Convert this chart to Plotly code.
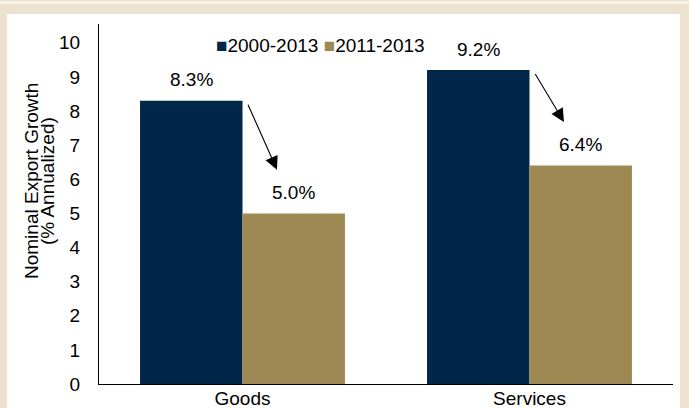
import plotly.graph_objects as go

categories = ["Goods", "Services"]
series_names = ["2000-2013", "2011-2013"]
values_2000_2013 = [8.3, 9.2]
values_2011_2013 = [5.0, 6.4]
y_ticks = list(range(0, 11))

NAVY = "#00264A"
GOLD = "#9E8955"
BEIGE = "#EDE2D0"
FONT = "Liberation Sans, Arial, sans-serif"
FS = 19

W, H = 689, 408
ML, MR, MT, MB = 99, 16, 24, 24
PW, PH = W - ML - MR, H - MT - MB


def px2paper_x(px):
    return (px - ML) / PW


def px2paper_y(py):
    return (H - MB - py) / PH


BARGAP = 0.286
bar_w = (1 - BARGAP) / 2
colors = [NAVY, GOLD]

fig = go.Figure()
fig.add_trace(go.Bar(name=series_names[0], x=categories, y=values_2000_2013,
                     marker=dict(color=NAVY, line=dict(width=0))))
fig.add_trace(go.Bar(name=series_names[1], x=categories, y=values_2011_2013,
                     marker=dict(color=GOLD, line=dict(width=0))))

annotations = []
for i, (v1, v2) in enumerate(zip(values_2000_2013, values_2011_2013)):
    annotations.append(dict(x=i - bar_w / 2, y=v1, xref="x", yref="y", text=f"{v1:.1f}%",
                            showarrow=False, yshift=21, font=dict(size=FS, color="#000")))
    annotations.append(dict(x=i + bar_w / 2, y=v2, xref="x", yref="y", text=f"{v2:.1f}%",
                            showarrow=False, yshift=21, font=dict(size=FS, color="#000")))
    # arrow from top of first bar towards the second
    annotations.append(dict(x=i + 0.12, y=v2 + 1.28, ax=i + 0.017, ay=v1 - 0.07,
                            xref="x", yref="y", axref="x", ayref="y", text="",
                            showarrow=True, arrowhead=2, arrowsize=2.4, arrowwidth=1.1,
                            arrowcolor="#000", standoff=0, startstandoff=0))

annotations.append(dict(x=px2paper_x(31), y=px2paper_y(181), xref="paper", yref="paper",
                        text="Nominal Export Growth", textangle=-90, showarrow=False,
                        font=dict(size=FS, color="#000"), xanchor="center", yanchor="middle"))
annotations.append(dict(x=px2paper_x(47), y=px2paper_y(181), xref="paper", yref="paper",
                        text="(% Annualized)", textangle=-90, showarrow=False,
                        font=dict(size=FS, color="#000"), xanchor="center", yanchor="middle"))

# legend, drawn as text with coloured squares
legend_text = " ".join(f'<span style="color:{c}">■</span>{n}' for c, n in zip(colors, series_names))
annotations.append(dict(x=px2paper_x(214), y=px2paper_y(45), xref="paper", yref="paper",
                        text=legend_text, showarrow=False, xanchor="left", yanchor="middle",
                        font=dict(size=FS, color="#000")))

shapes = [
    dict(type="rect", xref="paper", yref="paper", layer="below",
         x0=px2paper_x(7), x1=px2paper_x(680), y0=px2paper_y(430), y1=px2paper_y(14),
         fillcolor="white", line=dict(width=0)),
    dict(type="rect", xref="paper", yref="paper", layer="below",
         x0=px2paper_x(0), x1=px2paper_x(689), y0=px2paper_y(4), y1=px2paper_y(1),
         fillcolor="#F6F0E6", line=dict(width=0)),
]

fig.update_layout(
    width=W, height=H,
    margin=dict(l=ML, r=MR, t=MT, b=MB, pad=0),
    paper_bgcolor=BEIGE, plot_bgcolor="white",
    barmode="group", bargap=BARGAP, bargroupgap=0,
    font=dict(family=FONT, size=FS, color="#000"),
    showlegend=False,
    xaxis=dict(showline=True, linecolor="#000", linewidth=1, ticks="",
               showgrid=False, tickfont=dict(size=FS), automargin=False,
               ticklabelstandoff=-3),
    yaxis=dict(range=[0, 10.55], tickvals=y_ticks, showline=True, linecolor="#000",
               linewidth=1, ticks="", showgrid=False, zeroline=False,
               tickfont=dict(size=FS), ticklabelstandoff=14, automargin=False),
    annotations=annotations,
    shapes=shapes,
)

fig.write_html("out.html")
